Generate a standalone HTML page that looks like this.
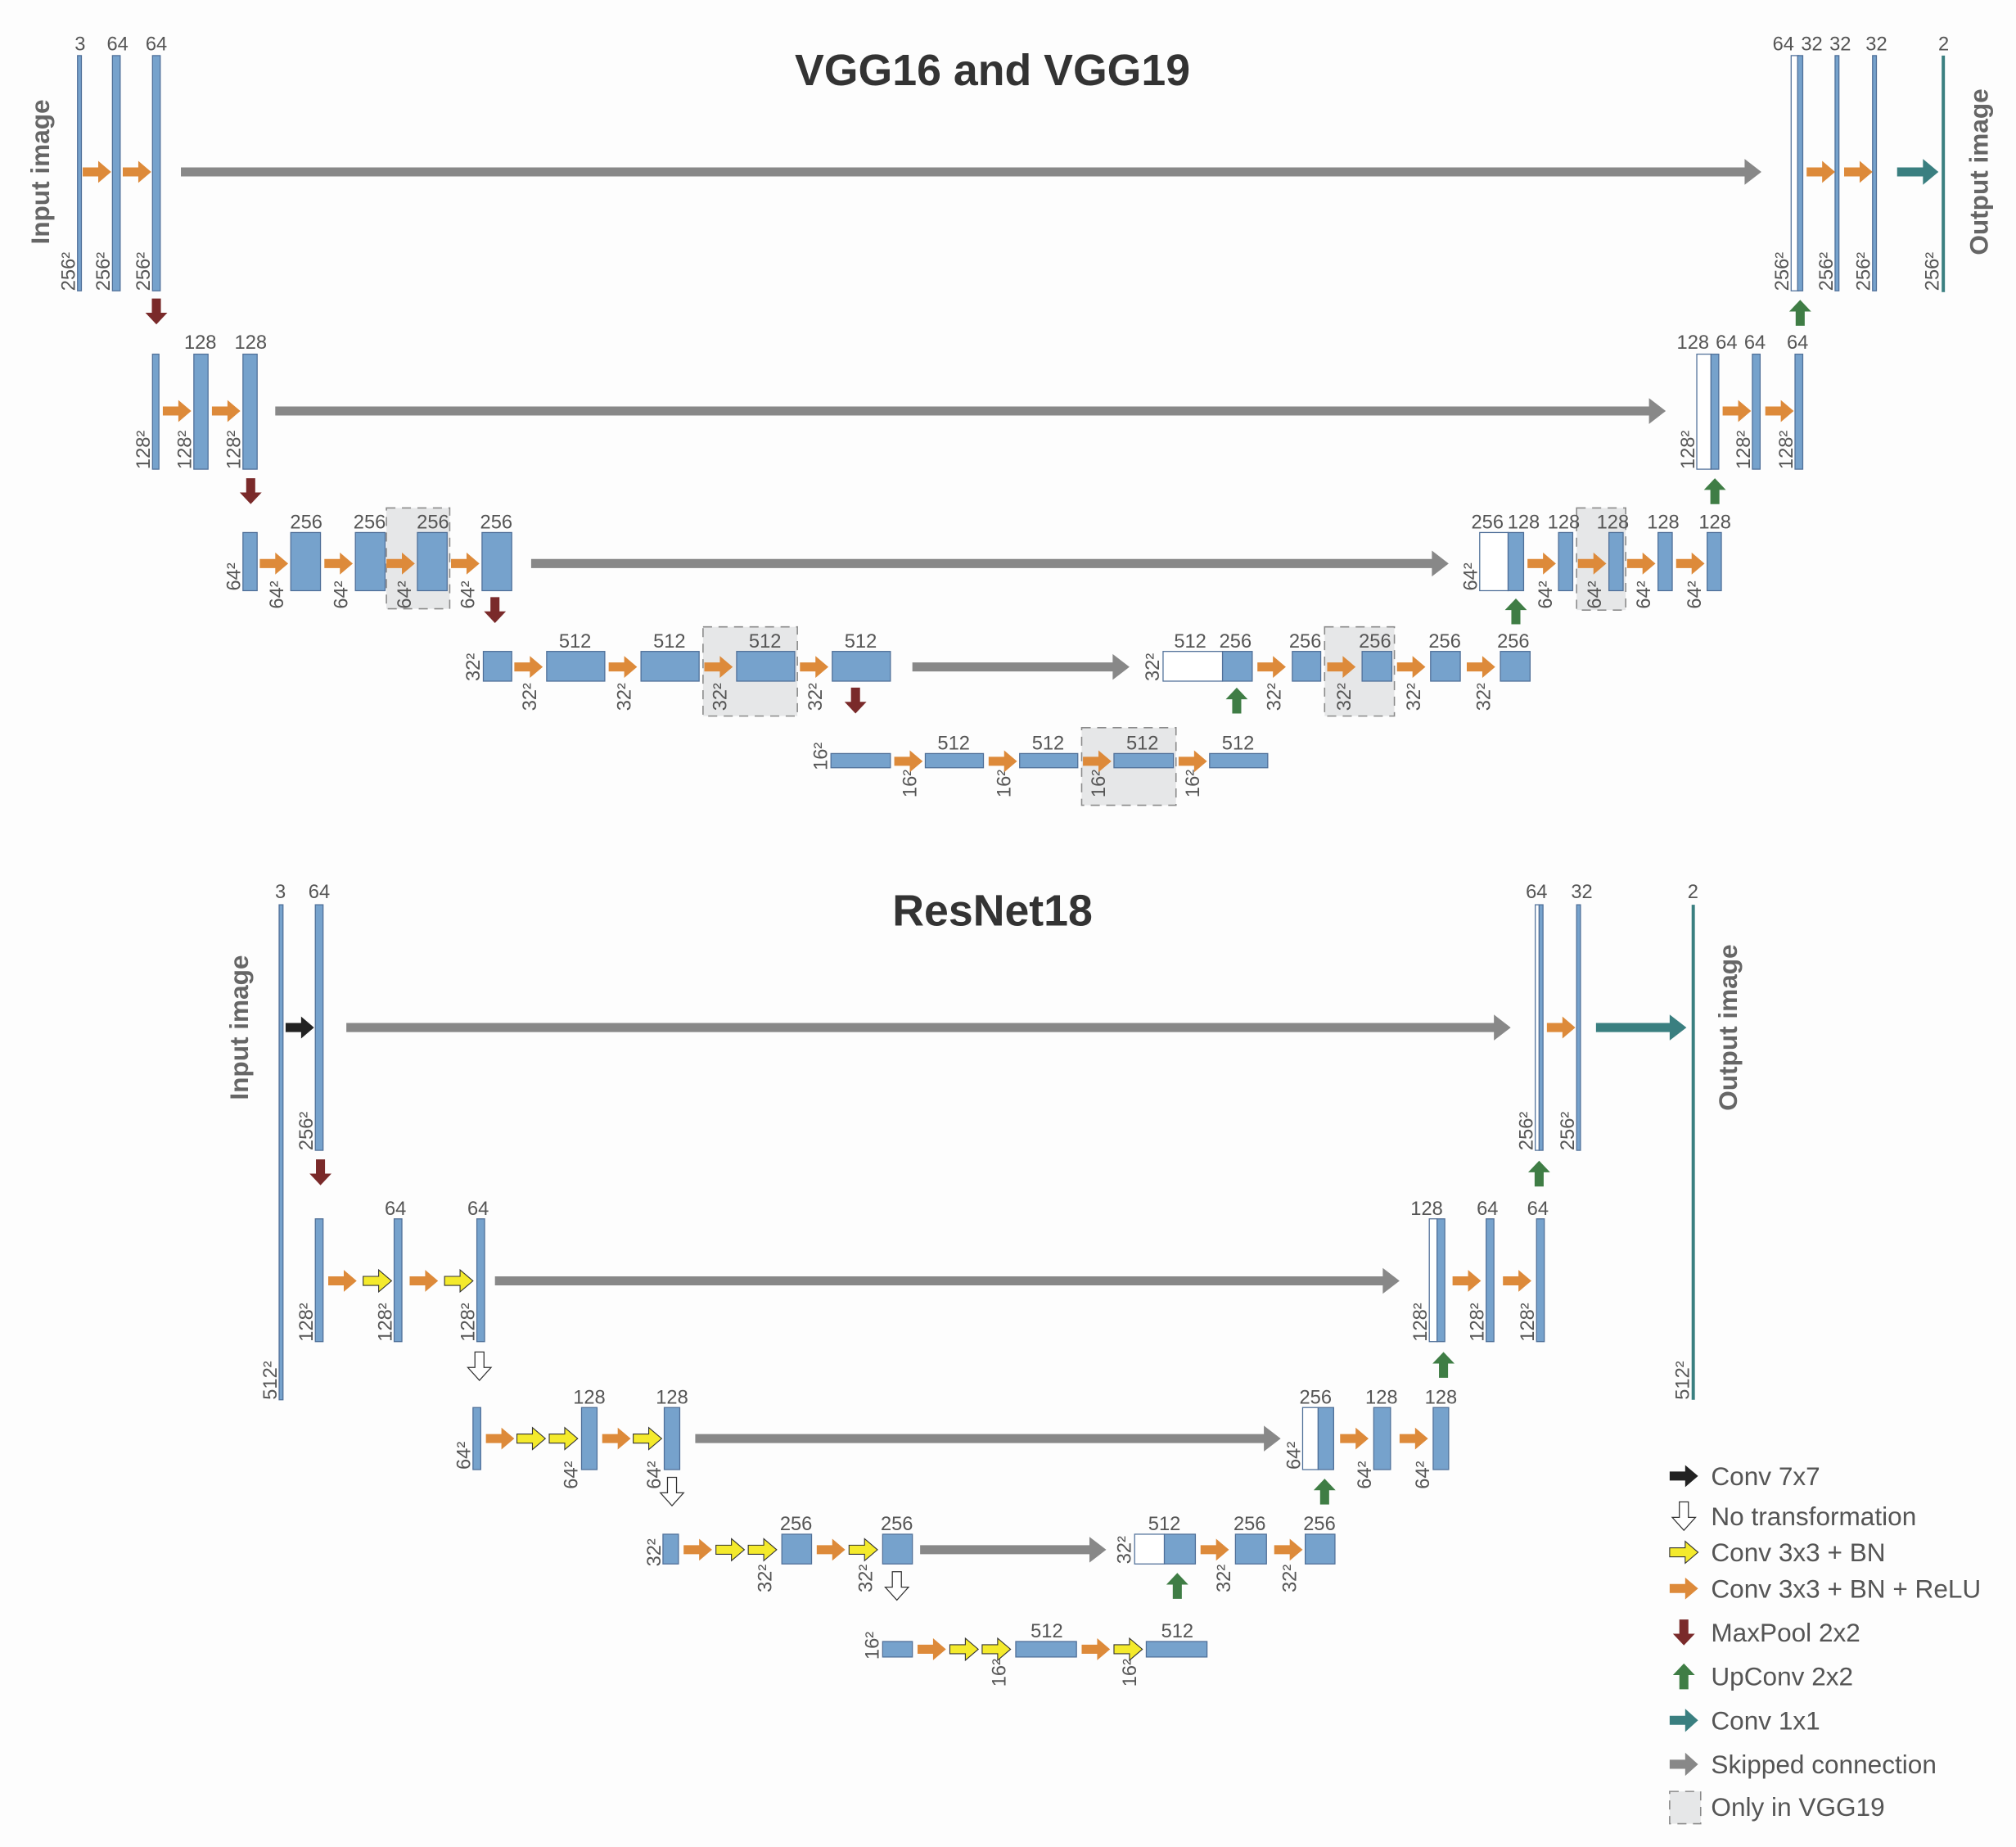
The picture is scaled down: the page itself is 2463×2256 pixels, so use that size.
<!DOCTYPE html>
<html><head><meta charset="utf-8"><style>
html,body{margin:0;padding:0;background:#fdfdfd;}
svg{display:block;}
text{font-family:"Liberation Sans",sans-serif;fill:#555;font-size:15px;}
.t{text-anchor:middle;}
.r{font-size:15px;}
.h{font-size:34px;font-weight:bold;fill:#333;text-anchor:middle;}
.io{font-size:20px;font-weight:bold;fill:#666;text-anchor:middle;}
.lg{font-size:20px;fill:#555;}
.b{fill:#76a2cc;stroke:#4f6f98;stroke-width:0.8;}
.w{fill:#fff;stroke:#4f6f98;stroke-width:0.8;}
.g{fill:#e6e7e8;stroke:#8a8a8a;stroke-width:1;stroke-dasharray:7 5;}
</style></head><body>
<svg width="2463" height="2256" viewBox="0 0 1560 1429" preserveAspectRatio="none" xmlns="http://www.w3.org/2000/svg">
<defs>
<path id="o" d="M-11,-3.5H1V-8.5L11,0L1,8.5V3.5H-11Z" fill="#dd8a3a"/>
<path id="y" d="M-11,-3.5H1V-8.5L11,0L1,8.5V3.5H-11Z" fill="#f4ea2c" stroke="#333" stroke-width="0.7"/>
<path id="k" d="M-11,-3.5H1V-8.5L11,0L1,8.5V3.5H-11Z" fill="#222"/>
<path id="m" d="M-3.5,-10V1H-8.5L0,10L8.5,1H3.5V-10Z" fill="#7a2a2a"/>
<path id="u" d="M-3.5,10V-1H-8.5L0,-10L8.5,-1H3.5V10Z" fill="#3f7d45"/>
<path id="d" d="M-3.5,-11V1H-9L0,11L9,1H3.5V-11Z" fill="#fff" stroke="#333" stroke-width="0.8"/>
</defs>
<rect width="1560" height="1429" fill="#fdfdfd"/>

<!-- ===== VGG ===== -->
<text class="h" x="768" y="66">VGG16 and VGG19</text>
<text class="io" transform="translate(38,133) rotate(-90)">Input image</text>
<text class="io" transform="translate(1538,133) rotate(-90)">Output image</text>

<rect class="g" x="299" y="393" width="49" height="78"/>
<rect class="g" x="544" y="485" width="73" height="69"/>
<rect class="g" x="837" y="563" width="73" height="60"/>
<rect class="g" x="1025" y="485" width="54" height="69"/>
<rect class="g" x="1220" y="393" width="38" height="79"/>

<!-- row1 -->
<rect class="b" x="60" y="43" width="3" height="182"/>
<rect class="b" x="87" y="43" width="6" height="182"/>
<rect class="b" x="118" y="43" width="6" height="182"/>
<text class="t" x="62" y="39">3</text><text class="t" x="91" y="39">64</text><text class="t" x="121" y="39">64</text>
<text class="r" transform="translate(58,225) rotate(-90)">256²</text>
<text class="r" transform="translate(85,225) rotate(-90)">256²</text>
<text class="r" transform="translate(116,225) rotate(-90)">256²</text>
<use href="#o" x="75" y="133"/><use href="#o" x="106" y="133"/>
<path d="M140,129.5H1350V123L1363,133L1350,143V136.5H140Z" fill="#888"/>
<use href="#m" x="121" y="241"/>

<rect class="w" x="1386" y="43" width="6" height="182"/>
<rect class="b" x="1391" y="43" width="4" height="182"/>
<rect class="b" x="1420" y="43" width="3" height="182"/>
<rect class="b" x="1449" y="43" width="3" height="182"/>
<rect x="1502.5" y="43" width="2.5" height="183" fill="#3a7f80"/>
<text class="t" x="1380" y="39">64</text><text class="t" x="1402" y="39">32</text><text class="t" x="1424" y="39">32</text><text class="t" x="1452" y="39">32</text><text class="t" x="1504" y="39">2</text>
<text class="r" transform="translate(1384,225) rotate(-90)">256²</text>
<text class="r" transform="translate(1418,225) rotate(-90)">256²</text>
<text class="r" transform="translate(1447,225) rotate(-90)">256²</text>
<text class="r" transform="translate(1500,225) rotate(-90)">256²</text>
<use href="#o" x="1409" y="133"/><use href="#o" x="1438" y="133"/>
<path d="M1468,129.5H1488V123L1500,133L1488,143V136.5H1468Z" fill="#3a7f80"/>
<use href="#u" x="1393" y="242"/>

<!-- row2 -->
<rect class="b" x="118" y="274" width="5" height="89"/>
<rect class="b" x="150" y="274" width="11" height="89"/>
<rect class="b" x="188" y="274" width="11" height="89"/>
<text class="t" x="155" y="270">128</text><text class="t" x="194" y="270">128</text>
<text class="r" transform="translate(116,363) rotate(-90)">128²</text>
<text class="r" transform="translate(148,363) rotate(-90)">128²</text>
<text class="r" transform="translate(186,363) rotate(-90)">128²</text>
<use href="#o" x="137" y="318"/><use href="#o" x="175" y="318"/>
<path d="M213,314.5H1276V308L1289,318L1276,328V321.5H213Z" fill="#888"/>
<use href="#m" x="194" y="380"/>

<rect class="w" x="1313" y="274" width="11" height="89"/>
<rect class="b" x="1324" y="274" width="6" height="89"/>
<rect class="b" x="1356" y="274" width="6" height="89"/>
<rect class="b" x="1389" y="274" width="6" height="89"/>
<text class="t" x="1310" y="270">128</text><text class="t" x="1336" y="270">64</text><text class="t" x="1358" y="270">64</text><text class="t" x="1391" y="270">64</text>
<text class="r" transform="translate(1311,363) rotate(-90)">128²</text>
<text class="r" transform="translate(1354,363) rotate(-90)">128²</text>
<text class="r" transform="translate(1387,363) rotate(-90)">128²</text>
<use href="#o" x="1344" y="318"/><use href="#o" x="1377" y="318"/>
<use href="#u" x="1327" y="380"/>

<!-- row3 -->
<rect class="b" x="188" y="412" width="11" height="45"/>
<rect class="b" x="225" y="412" width="23" height="45"/>
<rect class="b" x="275" y="412" width="23" height="45"/>
<rect class="b" x="323" y="412" width="23" height="45"/>
<rect class="b" x="373" y="412" width="23" height="45"/>
<text class="t" x="237" y="409">256</text><text class="t" x="286" y="409">256</text><text class="t" x="335" y="409">256</text><text class="t" x="384" y="409">256</text>
<text class="r" transform="translate(186,457) rotate(-90)">64²</text>
<text class="r" transform="translate(219,471) rotate(-90)">64²</text>
<text class="r" transform="translate(269,471) rotate(-90)">64²</text>
<text class="r" transform="translate(318,471) rotate(-90)">64²</text>
<text class="r" transform="translate(367,471) rotate(-90)">64²</text>
<use href="#o" x="212" y="436"/><use href="#o" x="262" y="436"/><use href="#o" x="310" y="436"/><use href="#o" x="360" y="436"/>
<path d="M411,432.5H1108V426L1121,436L1108,446V439.5H411Z" fill="#888"/>
<use href="#m" x="383" y="472"/>

<rect class="w" x="1145" y="412" width="22" height="45"/>
<rect class="b" x="1167" y="412" width="12" height="45"/>
<rect class="b" x="1206" y="412" width="11" height="45"/>
<rect class="b" x="1245" y="412" width="11" height="45"/>
<rect class="b" x="1283" y="412" width="11" height="45"/>
<rect class="b" x="1321" y="412" width="11" height="45"/>
<text class="t" x="1151" y="409">256</text><text class="t" x="1179" y="409">128</text><text class="t" x="1210" y="409">128</text><text class="t" x="1248" y="409">128</text><text class="t" x="1287" y="409">128</text><text class="t" x="1327" y="409">128</text>
<text class="r" transform="translate(1143,457) rotate(-90)">64²</text>
<text class="r" transform="translate(1201,471) rotate(-90)">64²</text>
<text class="r" transform="translate(1239,471) rotate(-90)">64²</text>
<text class="r" transform="translate(1277,471) rotate(-90)">64²</text>
<text class="r" transform="translate(1316,471) rotate(-90)">64²</text>
<use href="#o" x="1193" y="436"/><use href="#o" x="1232" y="436"/><use href="#o" x="1270" y="436"/><use href="#o" x="1308" y="436"/>
<use href="#u" x="1173" y="473"/>

<!-- row4 -->
<rect class="b" x="374" y="504" width="22" height="23"/>
<rect class="b" x="423" y="504" width="45" height="23"/>
<rect class="b" x="496" y="504" width="45" height="23"/>
<rect class="b" x="570" y="504" width="45" height="23"/>
<rect class="b" x="644" y="504" width="45" height="23"/>
<text class="t" x="445" y="501">512</text><text class="t" x="518" y="501">512</text><text class="t" x="592" y="501">512</text><text class="t" x="666" y="501">512</text>
<text class="r" transform="translate(371,527) rotate(-90)">32²</text>
<text class="r" transform="translate(415,550) rotate(-90)">32²</text>
<text class="r" transform="translate(488,550) rotate(-90)">32²</text>
<text class="r" transform="translate(562,550) rotate(-90)">32²</text>
<text class="r" transform="translate(636,550) rotate(-90)">32²</text>
<use href="#o" x="409" y="516"/><use href="#o" x="482" y="516"/><use href="#o" x="556" y="516"/><use href="#o" x="630" y="516"/>
<path d="M706,512.5H861V506L874,516L861,526V519.5H706Z" fill="#888"/>
<use href="#m" x="662" y="542"/>

<rect class="w" x="900" y="504" width="46" height="23"/>
<rect class="b" x="946" y="504" width="23" height="23"/>
<rect class="b" x="1000" y="504" width="22" height="23"/>
<rect class="b" x="1054" y="504" width="23" height="23"/>
<rect class="b" x="1107" y="504" width="23" height="23"/>
<rect class="b" x="1161" y="504" width="23" height="23"/>
<text class="t" x="921" y="501">512</text><text class="t" x="956" y="501">256</text><text class="t" x="1010" y="501">256</text><text class="t" x="1064" y="501">256</text><text class="t" x="1118" y="501">256</text><text class="t" x="1171" y="501">256</text>
<text class="r" transform="translate(897,527) rotate(-90)">32²</text>
<text class="r" transform="translate(991,550) rotate(-90)">32²</text>
<text class="r" transform="translate(1045,550) rotate(-90)">32²</text>
<text class="r" transform="translate(1099,550) rotate(-90)">32²</text>
<text class="r" transform="translate(1153,550) rotate(-90)">32²</text>
<use href="#o" x="984" y="516"/><use href="#o" x="1038" y="516"/><use href="#o" x="1092" y="516"/><use href="#o" x="1146" y="516"/>
<use href="#u" x="957" y="542"/>

<!-- row5 -->
<rect class="b" x="643" y="583" width="46" height="11"/>
<rect class="b" x="716" y="583" width="45" height="11"/>
<rect class="b" x="789" y="583" width="45" height="11"/>
<rect class="b" x="862" y="583" width="46" height="11"/>
<rect class="b" x="936" y="583" width="45" height="11"/>
<text class="t" x="738" y="580">512</text><text class="t" x="811" y="580">512</text><text class="t" x="884" y="580">512</text><text class="t" x="958" y="580">512</text>
<text class="r" transform="translate(640,596) rotate(-90)">16²</text>
<text class="r" transform="translate(709,617) rotate(-90)">16²</text>
<text class="r" transform="translate(782,617) rotate(-90)">16²</text>
<text class="r" transform="translate(855,617) rotate(-90)">16²</text>
<text class="r" transform="translate(928,617) rotate(-90)">16²</text>
<use href="#o" x="703" y="589"/><use href="#o" x="776" y="589"/><use href="#o" x="849" y="589"/><use href="#o" x="923" y="589"/>

<!-- ===== ResNet ===== -->
<text class="h" x="768" y="716">ResNet18</text>
<text class="io" transform="translate(192,795) rotate(-90)">Input image</text>
<text class="io" transform="translate(1344,795) rotate(-90)">Output image</text>

<rect class="b" x="216" y="700" width="3" height="383"/>
<rect class="b" x="244" y="700" width="6" height="190"/>
<text class="t" x="217" y="695">3</text><text class="t" x="247" y="695">64</text>
<text class="r" transform="translate(214,1083) rotate(-90)">512²</text>
<text class="r" transform="translate(242,890) rotate(-90)">256²</text>
<use href="#k" x="232" y="795"/>
<path d="M268,791.5H1156V785L1169,795L1156,805V798.5H268Z" fill="#888"/>
<use href="#m" x="248" y="907"/>

<rect class="w" x="1188" y="700" width="3" height="190"/>
<rect class="b" x="1191" y="700" width="3" height="190"/>
<rect class="b" x="1220" y="700" width="3" height="190"/>
<rect x="1309" y="700" width="2.5" height="383" fill="#3a7f80"/>
<text class="t" x="1189" y="695">64</text><text class="t" x="1224" y="695">32</text><text class="t" x="1310" y="695">2</text>
<text class="r" transform="translate(1186,890) rotate(-90)">256²</text>
<text class="r" transform="translate(1218,890) rotate(-90)">256²</text>
<text class="r" transform="translate(1307,1083) rotate(-90)">512²</text>
<use href="#o" x="1208" y="795"/>
<path d="M1235,791.5H1292V785L1305,795L1292,805V798.5H1235Z" fill="#3a7f80"/>
<use href="#u" x="1191" y="908"/>

<!-- R row2 -->
<rect class="b" x="244" y="943" width="6" height="95"/>
<rect class="b" x="305" y="943" width="6" height="95"/>
<rect class="b" x="369" y="943" width="6" height="95"/>
<text class="t" x="306" y="940">64</text><text class="t" x="370" y="940">64</text>
<text class="r" transform="translate(242,1038) rotate(-90)">128²</text>
<text class="r" transform="translate(303,1038) rotate(-90)">128²</text>
<text class="r" transform="translate(367,1038) rotate(-90)">128²</text>
<use href="#o" x="265" y="991"/><use href="#y" x="292" y="991"/><use href="#o" x="328" y="991"/><use href="#y" x="355" y="991"/>
<path d="M383,987.5H1070V981L1083,991L1070,1001V994.5H383Z" fill="#888"/>
<use href="#d" x="371" y="1057"/>

<rect class="w" x="1106" y="943" width="6" height="95"/>
<rect class="b" x="1112" y="943" width="6" height="95"/>
<rect class="b" x="1150" y="943" width="6" height="95"/>
<rect class="b" x="1189" y="943" width="6" height="95"/>
<text class="t" x="1104" y="940">128</text><text class="t" x="1151" y="940">64</text><text class="t" x="1190" y="940">64</text>
<text class="r" transform="translate(1104,1038) rotate(-90)">128²</text>
<text class="r" transform="translate(1148,1038) rotate(-90)">128²</text>
<text class="r" transform="translate(1187,1038) rotate(-90)">128²</text>
<use href="#o" x="1135" y="991"/><use href="#o" x="1174" y="991"/>
<use href="#u" x="1117" y="1056"/>

<!-- R row3 -->
<rect class="b" x="366" y="1089" width="6" height="48"/>
<rect class="b" x="450" y="1089" width="12" height="48"/>
<rect class="b" x="514" y="1089" width="12" height="48"/>
<text class="t" x="456" y="1086">128</text><text class="t" x="520" y="1086">128</text>
<text class="r" transform="translate(364,1137) rotate(-90)">64²</text>
<text class="r" transform="translate(447,1152) rotate(-90)">64²</text>
<text class="r" transform="translate(511,1152) rotate(-90)">64²</text>
<use href="#o" x="387" y="1113"/><use href="#y" x="411" y="1113"/><use href="#y" x="436" y="1113"/><use href="#o" x="477" y="1113"/><use href="#y" x="501" y="1113"/>
<path d="M538,1109.5H978V1103L991,1113L978,1123V1116.5H538Z" fill="#888"/>
<use href="#d" x="520" y="1154"/>

<rect class="w" x="1008" y="1089" width="12" height="48"/>
<rect class="b" x="1020" y="1089" width="12" height="48"/>
<rect class="b" x="1063" y="1089" width="13" height="48"/>
<rect class="b" x="1109" y="1089" width="12" height="48"/>
<text class="t" x="1018" y="1086">256</text><text class="t" x="1069" y="1086">128</text><text class="t" x="1115" y="1086">128</text>
<text class="r" transform="translate(1006,1137) rotate(-90)">64²</text>
<text class="r" transform="translate(1061,1152) rotate(-90)">64²</text>
<text class="r" transform="translate(1106,1152) rotate(-90)">64²</text>
<use href="#o" x="1048" y="1113"/><use href="#o" x="1094" y="1113"/>
<use href="#u" x="1025" y="1154"/>

<!-- R row4 -->
<rect class="b" x="513" y="1187" width="12" height="23"/>
<rect class="b" x="605" y="1187" width="23" height="23"/>
<rect class="b" x="683" y="1187" width="23" height="23"/>
<text class="t" x="616" y="1184">256</text><text class="t" x="694" y="1184">256</text>
<text class="r" transform="translate(511,1212) rotate(-90)">32²</text>
<text class="r" transform="translate(597,1232) rotate(-90)">32²</text>
<text class="r" transform="translate(675,1232) rotate(-90)">32²</text>
<use href="#o" x="540" y="1199"/><use href="#y" x="565" y="1199"/><use href="#y" x="590" y="1199"/><use href="#o" x="643" y="1199"/><use href="#y" x="668" y="1199"/>
<path d="M712,1195.5H843V1189L856,1199L843,1209V1202.5H712Z" fill="#888"/>
<use href="#d" x="694" y="1227"/>

<rect class="w" x="878" y="1187" width="23" height="23"/>
<rect class="b" x="901" y="1187" width="24" height="23"/>
<rect class="b" x="956" y="1187" width="24" height="23"/>
<rect class="b" x="1010" y="1187" width="23" height="23"/>
<text class="t" x="901" y="1184">512</text><text class="t" x="967" y="1184">256</text><text class="t" x="1021" y="1184">256</text>
<text class="r" transform="translate(875,1210) rotate(-90)">32²</text>
<text class="r" transform="translate(952,1232) rotate(-90)">32²</text>
<text class="r" transform="translate(1003,1232) rotate(-90)">32²</text>
<use href="#o" x="940" y="1199"/><use href="#o" x="997" y="1199"/>
<use href="#u" x="911" y="1227"/>

<!-- R row5 -->
<rect class="b" x="683" y="1270" width="23" height="12"/>
<rect class="b" x="786" y="1270" width="47" height="12"/>
<rect class="b" x="887" y="1270" width="47" height="12"/>
<text class="t" x="810" y="1267">512</text><text class="t" x="911" y="1267">512</text>
<text class="r" transform="translate(680,1284) rotate(-90)">16²</text>
<text class="r" transform="translate(778,1305) rotate(-90)">16²</text>
<text class="r" transform="translate(879,1305) rotate(-90)">16²</text>
<use href="#o" x="721" y="1276"/><use href="#y" x="746" y="1276"/><use href="#y" x="771" y="1276"/><use href="#o" x="848" y="1276"/><use href="#y" x="873" y="1276"/>

<!-- Legend -->
<use href="#k" x="1303" y="1142"/>
<text class="lg" x="1324" y="1149">Conv 7x7</text>
<use href="#d" x="1303" y="1173"/>
<text class="lg" x="1324" y="1180">No transformation</text>
<use href="#y" x="1303" y="1201"/>
<text class="lg" x="1324" y="1208">Conv 3x3 + BN</text>
<use href="#o" x="1303" y="1229"/>
<text class="lg" x="1324" y="1236">Conv 3x3 + BN + ReLU</text>
<use href="#m" x="1303" y="1263"/>
<text class="lg" x="1324" y="1270">MaxPool 2x2</text>
<use href="#u" x="1303" y="1297"/>
<text class="lg" x="1324" y="1304">UpConv 2x2</text>
<path d="M1292,1327.5H1304V1322L1314,1331L1304,1340V1334.5H1292Z" fill="#3a7f80"/>
<text class="lg" x="1324" y="1338">Conv 1x1</text>
<path d="M1292,1361.5H1304V1356L1314,1365L1304,1374V1368.5H1292Z" fill="#888"/>
<text class="lg" x="1324" y="1372">Skipped connection</text>
<rect class="g" x="1292" y="1386" width="24" height="25"/>
<text class="lg" x="1324" y="1405">Only in VGG19</text>
</svg>
</body></html>
